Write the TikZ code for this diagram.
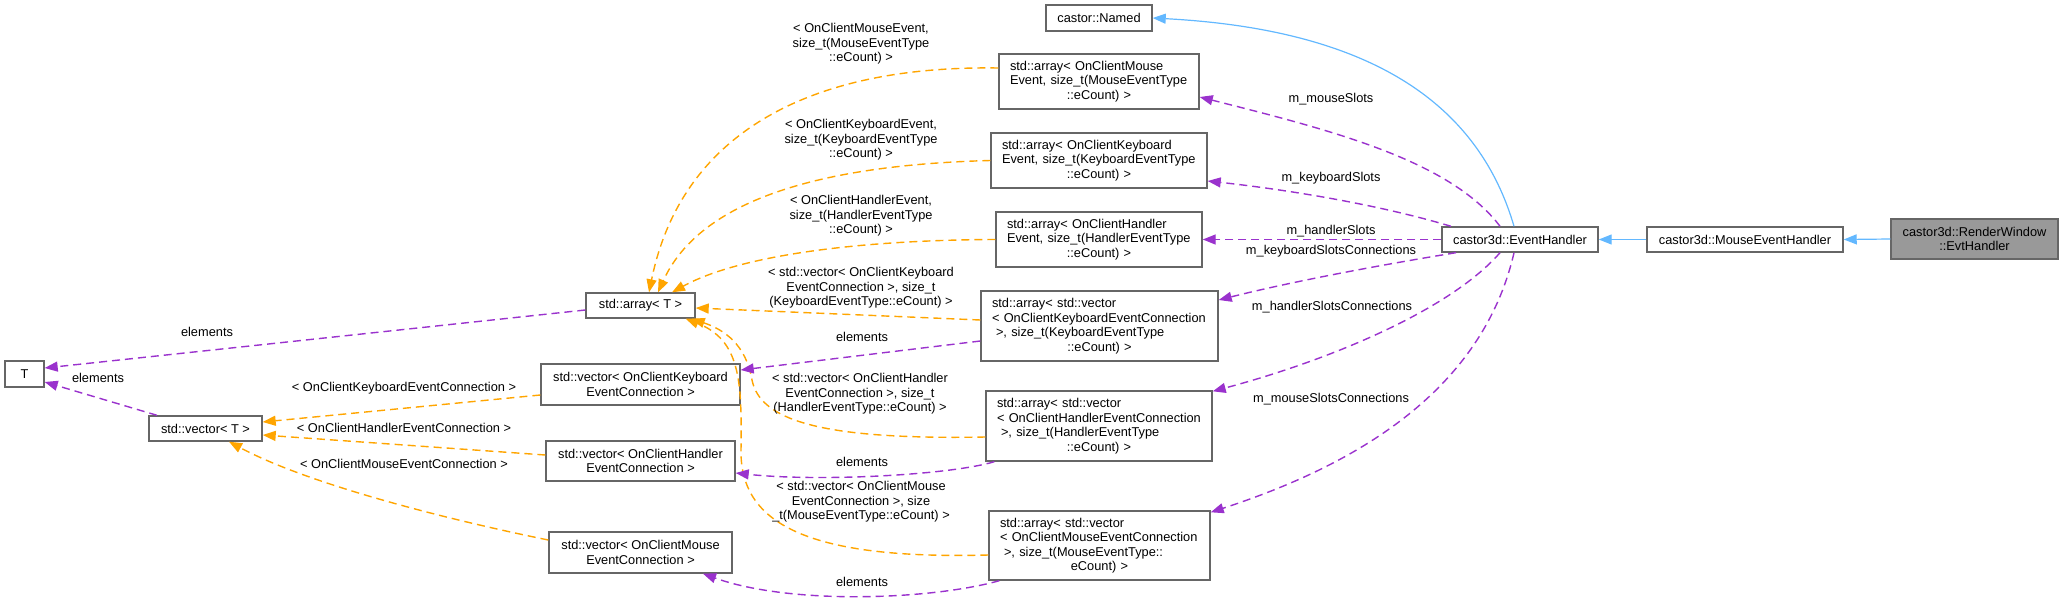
\documentclass[tikz,border=0pt]{standalone}
\usepackage{fontspec}
\setmainfont{Liberation Sans}
\usetikzlibrary{arrows.meta}
\definecolor{boxgray}{HTML}{666666}
\definecolor{focusfill}{HTML}{999999}
\definecolor{inhblue}{HTML}{63B8FF}
\definecolor{mempurple}{HTML}{9A32CD}
\definecolor{tmplorange}{HTML}{FFA500}
\newcommand\dgfont{\fontsize{6.4pt}{7.25pt}\selectfont}
\newcommand\Lrow[1]{\makebox[\linewidth][l]{#1}}
\tikzset{
  box/.style={draw=boxgray, line width=0.7pt, fill=white, inner xsep=5.5pt, inner ysep=1pt, font=\dgfont, align=center},
  lab/.style={font=\dgfont, align=center, inner sep=0pt},
  tipstyle/.style={-{Triangle[length=6.5pt,width=5pt]}},
  inhedge/.style={draw=inhblue, line width=0.6pt, tipstyle, fill=none},
  memberedge/.style={draw=mempurple, line width=0.7pt, dash pattern=on 4pt off 2.5pt, tipstyle},
  tmpledge/.style={draw=tmplorange, line width=0.7pt, dash pattern=on 4pt off 2.5pt, tipstyle}
}
\begin{document}
\begin{tikzpicture}[x=0.5pt,y=-0.5pt]
\useasboundingbox (0,0) rectangle (2064,605);
% nodes
\node[box, minimum width=53pt, minimum height=13pt] (named) at (1099,18) {castor::Named};
\node[box, text width=89pt, minimum height=27.5pt] (aM) at (1099,81.5) {\Lrow{std::array< OnClientMouse}\\\Lrow{Event, size\_t(MouseEventType}\\::eCount) >};
\node[box, text width=97pt, minimum height=27.5pt] (aK) at (1099,160.5) {\Lrow{std::array< OnClientKeyboard}\\\Lrow{Event, size\_t(KeyboardEventType}\\::eCount) >};
\node[box, text width=92pt, minimum height=27.5pt] (aH) at (1099,239.5) {\Lrow{std::array< OnClientHandler}\\\Lrow{Event, size\_t(HandlerEventType}\\::eCount) >};
\node[box, text width=107.5pt, minimum height=35pt] (avK) at (1099.5,326) {\Lrow{std::array< std::vector}\\\Lrow{< OnClientKeyboardEventConnection}\\\Lrow{\hspace{2pt}>, size\_t(KeyboardEventType}\\::eCount) >};
\node[box, text width=102pt, minimum height=35pt] (avH) at (1099,426) {\Lrow{std::array< std::vector}\\\Lrow{< OnClientHandlerEventConnection}\\\Lrow{\hspace{2pt}>, size\_t(HandlerEventType}\\::eCount) >};
\node[box, text width=99.5pt, minimum height=34.5pt] (avM) at (1099.5,545.5) {\Lrow{std::array< std::vector}\\\Lrow{< OnClientMouseEventConnection}\\\Lrow{\hspace{2pt}>, size\_t(MouseEventType::}\\eCount) >};
\node[box, minimum width=54.5pt, minimum height=12.5pt] (arrT) at (640.5,305.5) {std::array< T >};
\node[box, minimum width=19.5pt, minimum height=13pt] (T) at (24.5,374) {T};
\node[box, minimum width=56.5pt, minimum height=12.5pt] (vecT) at (205.5,428.5) {std::vector< T >};
\node[box, minimum width=99.5pt, minimum height=20.5pt] (vK) at (640.5,384.5) {std::vector< OnClientKeyboard\\EventConnection >};
\node[box, minimum width=94.5pt, minimum height=20pt] (vH) at (640.5,461) {std::vector< OnClientHandler\\EventConnection >};
\node[box, minimum width=91.5pt, minimum height=20.5pt] (vM) at (640.5,552.5) {std::vector< OnClientMouse\\EventConnection >};
\node[box, minimum width=78pt, minimum height=12.5pt] (eh) at (1520,239.5) {castor3d::EventHandler};
\node[box, minimum width=98pt, minimum height=12.5pt] (meh) at (1745,239.5) {castor3d::MouseEventHandler};
\node[box, fill=focusfill, minimum width=83.5pt, minimum height=20pt] (rw) at (1974.5,239) {castor3d::RenderWindow\\::EvtHandler};
% inheritance
\draw[inhedge] ([xshift=-3pt]eh.north) .. controls (1480,110) and (1380,30) .. (named.east);
\draw[inhedge] (meh.west) -- (eh.east);
\draw[inhedge] (rw.west) -- (meh.east);
% members of EventHandler
\draw[memberedge] ([xshift=-10pt]eh.north) .. controls (1450,160) and (1330,130) .. ([yshift=-7.75pt]aM.east);
\draw[memberedge] ([xshift=-34.5pt]eh.north) .. controls (1380,205) and (1290,190) .. ([yshift=-10.25pt]aK.east);
\draw[memberedge] (eh.west) -- (aH.east);
\draw[memberedge] ([xshift=-32pt]eh.south) .. controls (1380,265) and (1290,282) .. ([yshift=13pt]avK.east);
\draw[memberedge] ([xshift=-10pt]eh.south) .. controls (1450,310) and (1330,360) .. ([yshift=-0.5pt]avH.north east);
\draw[memberedge] ([xshift=-3pt]eh.south) .. controls (1480,400) and (1340,470) .. ([yshift=-1pt]avM.north east);
% template instances of std::array<T>
\draw[tmpledge] ([yshift=6.75pt]aM.west) .. controls (800,65) and (680,140) .. ([xshift=4.25pt]arrT.north);
\draw[tmpledge] (aK.west) .. controls (820,165) and (700,200) .. ([xshift=8.75pt]arrT.north);
\draw[tmpledge] (aH.west) .. controls (860,240) and (740,255) .. ([xshift=15.75pt]arrT.north);
\draw[tmpledge] ([yshift=3pt]avK.west) -- ([yshift=-1.25pt]arrT.east);
\draw[tmpledge] ([yshift=-5.5pt]avH.west) .. controls (820,440) and (760,420) .. (752,380) .. controls (746,345) and (725,330) .. ([xshift=-2pt]arrT.south east);
\draw[tmpledge] ([yshift=-4.75pt]avM.west) .. controls (800,560) and (740,520) .. (741,450) .. controls (742,380) and (740,340) .. ([xshift=-5pt]arrT.south east);
% elements
\draw[memberedge] ([yshift=-2.25pt]arrT.west) -- ([yshift=3pt]T.east);
\draw[memberedge] ([xshift=-24.25pt]vecT.north) -- ([yshift=-4pt]T.east);
\draw[memberedge] ([yshift=-7.5pt]avK.west) -- ([yshift=7.25pt]vK.east);
\draw[memberedge] ([xshift=4.5pt]avH.south west) .. controls (950,475) and (820,482) .. ([yshift=-6pt]vH.east);
\draw[memberedge] ([xshift=5.5pt]avM.south west) .. controls (930,600) and (790,605) .. ([xshift=31.25pt]vM.south);
% template instances of std::vector<T>
\draw[tmpledge] ([yshift=-5.25pt]vK.west) -- ([yshift=3.25pt]vecT.east);
\draw[tmpledge] ([yshift=3pt]vH.west) -- ([yshift=-3.25pt]vecT.east);
\draw[tmpledge] ([yshift=6.25pt]vM.west) .. controls (450,520) and (310,485) .. ([xshift=11.75pt]vecT.south);
% labels
\node[lab] (l1) at (861,44) {< OnClientMouseEvent,\\size\_t(MouseEventType\\::eCount) >};
\node[lab] (l2) at (861,140) {< OnClientKeyboardEvent,\\size\_t(KeyboardEventType\\::eCount) >};
\node[lab] (l3) at (861,216) {< OnClientHandlerEvent,\\size\_t(HandlerEventType\\::eCount) >};
\node[lab] (l4) at (861,288) {< std::vector< OnClientKeyboard\\EventConnection >, size\_t\\(KeyboardEventType::eCount) >};
\node[lab] (l5) at (862,337) {elements};
\node[lab] (l6) at (860,394) {< std::vector< OnClientHandler\\EventConnection >, size\_t\\(HandlerEventType::eCount) >};
\node[lab] (l7) at (862,462) {elements};
\node[lab] (l8) at (861,502) {< std::vector< OnClientMouse\\EventConnection >, size\\\_t(MouseEventType::eCount) >};
\node[lab] (l9) at (862,582) {elements};
\node[lab] (l10) at (207,332) {elements};
\node[lab] (l11) at (98,378) {elements};
\node[lab] (l12) at (404,388) {< OnClientKeyboardEventConnection >};
\node[lab] (l13) at (404,428) {< OnClientHandlerEventConnection >};
\node[lab] (l14) at (404,464) {< OnClientMouseEventConnection >};
\node[lab] (l15) at (1331,99) {m\_mouseSlots};
\node[lab] (l16) at (1331,178) {m\_keyboardSlots};
\node[lab] (l17) at (1331,231) {m\_handlerSlots};
\node[lab] (l18) at (1331,251) {m\_keyboardSlotsConnections};
\node[lab] (l19) at (1332,307) {m\_handlerSlotsConnections};
\node[lab] (l20) at (1331,399) {m\_mouseSlotsConnections};
\end{tikzpicture}
\end{document}
